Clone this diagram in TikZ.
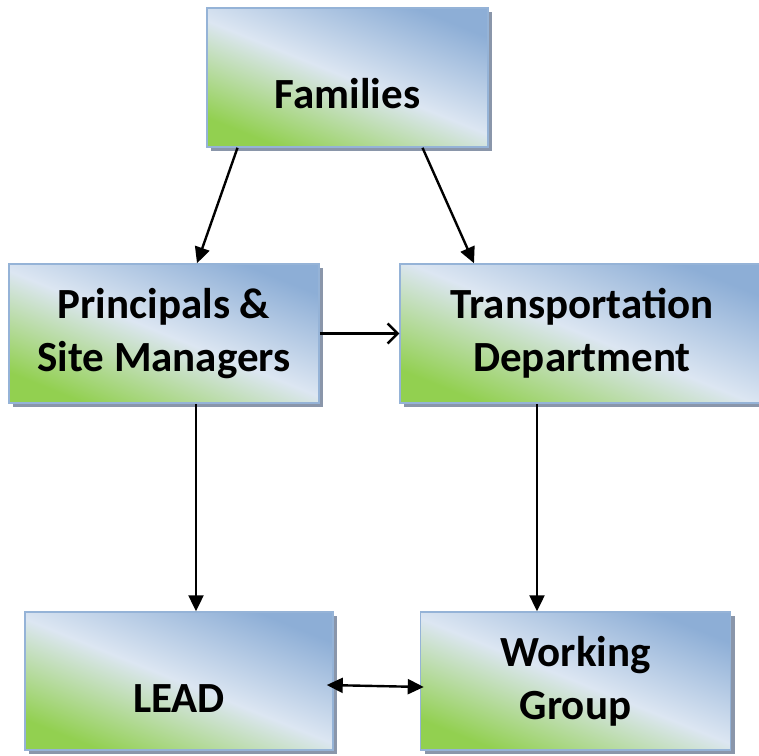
\documentclass[tikz,border=0pt]{standalone}
\usepackage{fontspec}
\setmainfont{Carlito}
\usetikzlibrary{positioning,shadows,arrows.meta}

\definecolor{boxgreen}{RGB}{146,208,80}
\definecolor{boxlight}{RGB}{220,230,242}
\definecolor{boxblue}{RGB}{141,174,214}
\definecolor{boxline}{RGB}{149,179,215}
\definecolor{boxshadow}{RGB}{138,150,170}

\begin{document}
\begin{tikzpicture}[x=1pt,y=-1pt,on grid,
  block/.style={rectangle,draw=boxline,line width=1.5pt,
    bottom color=boxgreen,top color=boxblue,middle color=boxlight,shading angle=-22,
    drop shadow={shadow xshift=4pt,shadow yshift=-4pt,fill=boxshadow,opacity=1},
    minimum width=310pt,minimum height=139pt,align=center,
    font=\bfseries\fontsize{43}{53}\selectfont},
  lowered/.style={text height=62pt,text depth=0pt},
  link/.style={-{Triangle[length=16pt,width=15pt]},line width=2.4pt}]
  \useasboundingbox (0,0) rectangle (759,755);

  \node[block,lowered,minimum width=281pt] (fam) at (347.5,77.5) {Families};
  \node[block] (prin) [below left=256pt and 183.5pt of fam] {Principals \&\\Site Managers};
  \node[block,minimum width=364pt] (trans) [right=418pt of prin] {Transportation\\Department};
  \node[block,lowered,minimum width=308pt,minimum height=138pt] (lead) [below right=347.5pt and 15pt of prin] {LEAD};
  \node[block,minimum height=138pt] (wg) [right=396.5pt of lead] {Working\\Group};

  % top level
  \draw[link] ([xshift=-110pt]fam.south) -- ([xshift=33pt]prin.north);
  \draw[link] ([xshift=75pt]fam.south) -- ([xshift=-108pt]trans.north);
  \draw[-{Straight Barb[length=10pt,width=20pt]},line width=2.4pt] (prin.east) -- (trans.west);

  % down to the bottom row
  \draw[link] ([xshift=32pt]prin.south) -- ([xshift=32pt]prin.south |- lead.north);
  \draw[link] ([xshift=-45pt]trans.south) -- ([xshift=-45pt]trans.south |- wg.north);
  \draw[{Triangle[length=16pt,width=15pt]}-{Triangle[length=16pt,width=15pt]},line width=2.4pt]
    ([xshift=-7pt,yshift=-4pt]lead.east) -- ([xshift=4pt,yshift=-6pt]wg.west);
\end{tikzpicture}
\end{document}
